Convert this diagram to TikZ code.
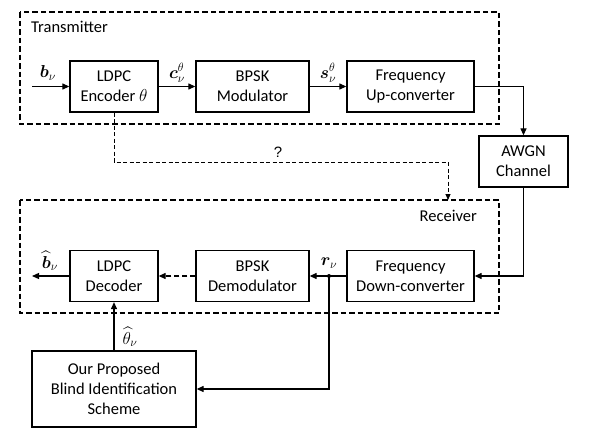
\documentclass[tikz,border=0pt]{standalone}
\usepackage{fontspec}
\usepackage{amsmath,bm}
\setmainfont{Carlito}
\newfontfamily\qfont{Liberation Sans}
\usetikzlibrary{arrows.meta}
\begin{document}
\begin{tikzpicture}[x=1pt,y=-1pt,
  blk/.style={draw,line width=1.3pt,minimum width=#1,minimum height=51pt,inner sep=0pt,align=center,font=\fontsize{16.5}{20}\selectfont},
  blk/.default=88pt,
  frame/.style={draw,line width=1.2pt,dash pattern=on 5.5pt off 3pt},
  sig/.style={line width=1.2pt,-{Triangle[length=7pt,width=6pt]}},
  dsig/.style={line width=1.2pt,dash pattern=on 5pt off 3pt,-{Triangle[length=7pt,width=6pt]}},
  qsig/.style={line width=0.9pt,dash pattern=on 4pt off 2.5pt,-{Triangle[length=6pt,width=5pt]}},
  lbl/.style={font=\fontsize{16.5}{20}\selectfont,inner sep=1pt}]
\useasboundingbox (0,0) rectangle (594,437);
% frames
\draw[frame] (20,12) rectangle (499,124);
\draw[frame] (20,200) rectangle (499,313);
\node[lbl,anchor=west] (tx) at (30,27) {Transmitter};
\node[lbl,anchor=east] (rx) at (478,216) {Receiver};
% transmitter blocks
\node[blk=88pt] (enc) at (114,86.5) {LDPC\\Encoder $\theta$};
\node[blk=113pt] (mod) at (252.5,86.5) {BPSK\\Modulator};
\node[blk=127pt] (up) at (410.5,86.5) {Frequency\\Up-converter};
\node[blk=89pt] (awgn) at (523.5,161.5) {AWGN\\Channel};
% receiver blocks
\node[blk=127pt] (down) at (410.5,276) {Frequency\\Down-converter};
\node[blk=113pt] (dem) at (252.5,276) {BPSK\\Demodulator};
\node[blk=88pt] (dec) at (114,276) {LDPC\\Decoder};
\node[blk=164pt,minimum height=76pt] (bis) at (114,389) {Our Proposed\\Blind Identification\\Scheme};
% coordinates
\coordinate (bin) at (32,86.5);
\coordinate (bout) at (32,276);
\coordinate (rdot) at (329,276);
\coordinate (qa) at (114,162);
\coordinate (qb) at (448,162);
\coordinate (qc) at (448,200);
% connectors
\draw[sig] (bin) -- (enc.west);
\draw[sig] (enc.east) -- (mod.west);
\draw[sig] (mod.east) -- (up.west);
\draw[sig] (up.east) -| (awgn.north);
\draw[sig] (awgn.south) |- (down.east);
\draw[sig] (down.west) -- (dem.east);
\draw[dsig] (dem.west) -- (dec.east);
\draw[sig] (dec.west) -- (bout);
\draw[sig] (bis.north) -- (dec.south);
\draw[sig] (rdot) |- (bis.east);
\fill (rdot) circle (2pt);
\draw[qsig] (enc.south) -- (qa) -- (qb) -- (qc);
% labels
\node[lbl] (lb) at (48,73) {$\bm{b}_{\nu}$};
\node[lbl] (lc) at (177,73) {$\bm{c}_{\nu}^{\theta}$};
\node[lbl] (ls) at (328,73) {$\bm{s}_{\nu}^{\theta}$};
\node[lbl] (lr) at (329,263) {$\bm{r}_{\nu}$};
\node[lbl] (lbh) at (50,261) {$\widehat{\bm{b}}_{\nu}$};
\node[lbl] (lth) at (130,337) {$\widehat{\theta}_{\nu}$};
\node[font=\qfont\fontsize{15}{18}\selectfont] (q) at (278,152) {?};
\end{tikzpicture}
\end{document}
